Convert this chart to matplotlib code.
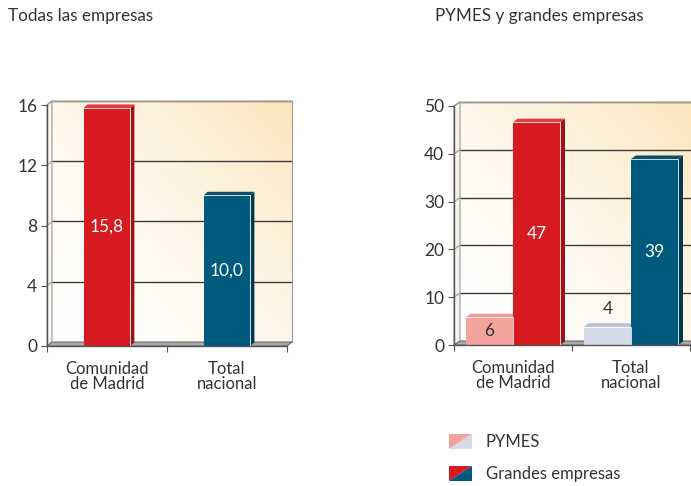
import matplotlib
matplotlib.use("Agg")
import matplotlib.pyplot as plt
import numpy as np
from matplotlib.patches import Polygon

categories = ["Comunidad\nde Madrid", "Total\nnacional"]
todas = [15.8, 10.0]
pymes = [5.8, 3.8]
grandes = [46.6, 38.9]

plt.rcParams["font.family"] = ["Lato", "DejaVu Sans"]
TXT = "#333333"
RED, RED_S, RED_T = "#d71920", "#9e1116", "#e23a40"
BLUE, BLUE_S, BLUE_T = "#005a7d", "#003a52", "#0d4f6a"
PINK, PINK_S, PINK_T = "#f4a39c", "#d07e78", "#ec9a93"
LAV, LAV_S, LAV_T = "#d5d9e8", "#aab0c6", "#b9bfd6"
FS = 12.5

W, H = 691, 486
fig = plt.figure(figsize=(W / 100, H / 100), dpi=100)


def px_axes(x0, ytop, x1, ybot):
    return fig.add_axes([x0 / W, 1 - ybot / H, (x1 - x0) / W, (ybot - ytop) / H])


def frame(ax, ymax, step, wpx, hpx, dpx=5, dpy=4):
    """décor 3D : mur du fond en dégradé, sol gris, grille décalée"""
    ax.set_xlim(-0.5, 1.5)
    ax.set_ylim(0, ymax)
    dx = dpx * 2.0 / wpx
    dy = dpy * ymax / hpx
    u, v = np.meshgrid(np.linspace(0, 1, 200), np.linspace(0, 1, 200))
    t = np.clip((u + v) / 2, 0, 1) ** 1.6
    c0 = np.array([1.0, 1.0, 1.0])
    c1 = np.array([0.99, 0.90, 0.74])
    img = c0 + (c1 - c0) * t[..., None]
    ax.imshow(img, origin="lower", extent=[-0.5 + dx, 1.5 + dx, dy, ymax + dy],
              aspect="auto", zorder=0, clip_on=False)
    # mur gauche
    ax.add_patch(Polygon([(-0.5, 0), (-0.5 + dx, dy), (-0.5 + dx, ymax + dy), (-0.5, ymax)],
                         closed=True, fc="#f6f3ee", ec="#9a9a9a", lw=0.8, zorder=1,
                         clip_on=False))
    # grille sur le mur du fond
    for g in np.arange(step, ymax + 0.01, step):
        ax.plot([-0.5 + dx, 1.5 + dx], [g + dy, g + dy], color="#3c3c3c", lw=1.0,
                zorder=1, clip_on=False, solid_capstyle="butt")
        ax.plot([-0.5, -0.5 + dx], [g, g + dy], color="#9a9a9a", lw=0.8, zorder=1,
                clip_on=False)
    ax.plot([1.5 + dx, 1.5 + dx], [dy, ymax + dy], color="#9a9a9a", lw=0.8, zorder=1,
            clip_on=False)
    ax.plot([-0.5 + dx, 1.5 + dx], [ymax + dy, ymax + dy], color="#9a9a9a", lw=0.8,
            zorder=1, clip_on=False)
    # sol
    ax.add_patch(Polygon([(-0.5, 0), (-0.5 + dx, dy), (1.5 + dx, dy), (1.5, 0)],
                         closed=True, fc="#a9a9a9", ec="#6f6f6f", lw=0.8, zorder=1,
                         clip_on=False))
    for s in ("top", "right"):
        ax.spines[s].set_visible(False)
    for s in ("left", "bottom"):
        ax.spines[s].set_color("#555555")
        ax.spines[s].set_linewidth(1.0)
        ax.spines[s].set_zorder(5)
    ax.set_yticks(np.arange(0, ymax + 0.01, step))
    ax.tick_params(axis="y", length=4, color="#555555", labelsize=FS, labelcolor=TXT,
                   pad=3)
    ax.set_xticks([-0.5, 0.5, 1.5])
    ax.set_xticklabels([])
    ax.tick_params(axis="x", which="major", length=4, color="#555555")
    ax.set_xticks([0, 1], categories, minor=True)
    ax.tick_params(axis="x", which="minor", length=0, labelsize=12, labelcolor=TXT,
                   pad=11)
    for lab in ax.get_xticklabels(minor=True):
        lab.set_linespacing(0.92)
    ax.set_facecolor("none")
    return dx * 0.8, dy * 0.9


def bar3d(ax, x, h, w, face, side, top, dx, dy):
    ax.bar([x], [h], width=w, color=face, edgecolor="none", zorder=3, clip_on=False)
    x0, x1 = x - w / 2, x + w / 2
    ax.add_patch(Polygon([(x1, 0), (x1 + dx, dy), (x1 + dx, h + dy), (x1, h)], closed=True,
                         fc=side, ec="none", zorder=3, clip_on=False))
    ax.add_patch(Polygon([(x0, h), (x0 + dx, h + dy), (x1 + dx, h + dy), (x1, h)],
                         closed=True, fc=top, ec="none", zorder=3, clip_on=False))
    ax.plot([x1, x1, x0], [0, h, h], color="white", lw=0.7, zorder=4, alpha=0.8)


# --- Todas las empresas
ax1 = px_axes(47, 105, 287, 346)
dx, dy = frame(ax1, 16, 4, 240, 241)
cols = [(RED, RED_S, RED_T), (BLUE, BLUE_S, BLUE_T)]
for i, v in enumerate(todas):
    bar3d(ax1, i, v, 0.39, *cols[i], dx, dy)
    ax1.text(i, v / 2, f"{v:.1f}".replace(".", ","), ha="center", va="center",
             color="white", fontsize=FS, zorder=6)

# --- PYMES y grandes empresas
ax2 = px_axes(454, 106, 690, 345)
dx, dy = frame(ax2, 50, 10, 236, 239, dpx=6)
pcols = [(PINK, PINK_S, PINK_T), (LAV, LAV_S, LAV_T)]
gcols = [(RED, RED_S, RED_T), (BLUE, BLUE_S, BLUE_T)]
bw = 0.4
for i in range(2):
    bar3d(ax2, i - bw / 2, pymes[i], bw, *pcols[i], dx, dy)
    bar3d(ax2, i + bw / 2, grandes[i], bw, *gcols[i], dx, dy)
    ax2.text(i + bw / 2, grandes[i] / 2, f"{grandes[i]:.0f}", ha="center", va="center",
             color="white", fontsize=FS, zorder=6)
ax2.text(0 - bw / 2, pymes[0] / 2, f"{pymes[0]:.0f}", ha="center", va="center",
         color=TXT, fontsize=FS, zorder=6)
ax2.text(1 - bw / 2, pymes[1] + 2, f"{pymes[1]:.0f}", ha="center", va="bottom",
         color=TXT, fontsize=FS, zorder=6)

# titres
fig.text(8 / W, 1 - 16 / H, "Todas las empresas", ha="left", va="center", color=TXT,
         fontsize=12.3)
fig.text(435 / W, 1 - 16 / H, "PYMES y grandes empresas", ha="left", va="center",
         color=TXT, fontsize=12.3)

# légende : carrés coupés en diagonale
leg = fig.add_axes([0, 0, 1, 1], facecolor="none")
leg.set_xlim(0, W)
leg.set_ylim(H, 0)
leg.axis("off")
for (c1, c2), y, lab in (((PINK, LAV), 434, "PYMES"), ((RED, BLUE), 466, "Grandes empresas")):
    x0, x1, y1 = 449, 472, y + 15
    leg.add_patch(Polygon([(x0, y), (x1, y), (x0, y1)], closed=True, fc=c1, ec="none"))
    leg.add_patch(Polygon([(x1, y), (x1, y1), (x0, y1)], closed=True, fc=c2, ec="none"))
    leg.text(486, y + 8, lab, ha="left", va="center", color=TXT, fontsize=12)

fig.savefig("out.png", dpi=100)
